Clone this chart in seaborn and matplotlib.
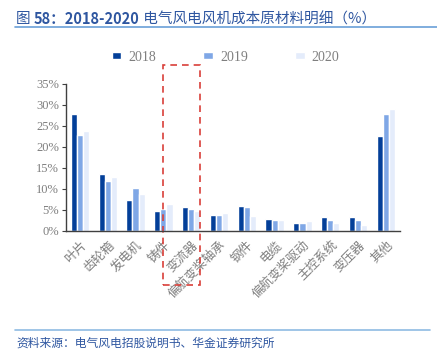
import pandas as pd
import numpy as np
import matplotlib
matplotlib.use('Agg')
import matplotlib.pyplot as plt
import seaborn as sns
from matplotlib.patches import Rectangle
import matplotlib.ticker as mtick

# データ
categories = ['叶片', '齿轮箱', '发电机', '铸件', '变流器', '偏航变桨轴承',
              '钢件', '电缆', '偏航变桨驱动', '主控系统', '变压器', '其他']
years = ['2018', '2019', '2020']
v2018 = [27.8, 13.6, 7.3, 4.7, 5.5, 3.6, 5.9, 2.7, 1.8, 3.2, 3.2, 22.5]
v2019 = [22.8, 11.8, 10.2, 5.2, 5.2, 3.6, 5.5, 2.4, 1.9, 2.6, 2.6, 27.7]
v2020 = [23.7, 12.8, 8.7, 6.3, 4.6, 4.2, 3.4, 2.4, 2.2, 1.9, 1.3, 29.1]
colors = ['#033f99', '#7fa7e6', '#e4ecfb']

df = pd.DataFrame({'category': categories * 3,
                   'year': [y for y in years for _ in categories],
                   'value': v2018 + v2019 + v2020})

sns.set_style('white')
plt.rcParams['font.family'] = ['Liberation Serif', 'Noto Sans CJK SC', 'DejaVu Sans']

fig = plt.figure(figsize=(4.37, 3.52), dpi=100)
ax = fig.add_axes([0.151, 0.345, 0.764, 0.417])

sns.barplot(data=df, x='category', y='value', hue='year', palette=colors,
            width=0.66, saturation=1, ax=ax, legend=True)

ax.set_xlim(-0.5, 11.5)
ax.set_ylim(0, 35)
ax.set_yticks(np.arange(0, 36, 5))
ax.yaxis.set_major_formatter(mtick.PercentFormatter(decimals=0))
ax.set_xlabel('')
ax.set_ylabel('')
for s in ['top', 'right']:
    ax.spines[s].set_visible(False)
for s in ['left', 'bottom']:
    ax.spines[s].set_color('#404040')
    ax.spines[s].set_linewidth(1.0)
ax.tick_params(axis='y', left=True, length=3, color='#404040', labelsize=9,
               labelcolor='#7f7f7f', pad=2)
ax.tick_params(axis='x', bottom=False, labelsize=9, labelcolor='#7f7f7f', pad=2)
plt.setp(ax.get_xticklabels(), rotation=45, ha='right', rotation_mode='anchor',
         family=['Noto Sans CJK SC'])

# 凡例
leg = ax.legend(loc='center', bbox_to_anchor=(0.516, 0.838), bbox_transform=fig.transFigure,
                ncol=3, frameon=False, fontsize=10, handlelength=0.7, handleheight=0.45,
                columnspacing=3.4, handletextpad=0.5)
for t in leg.get_texts():
    t.set_color('#7f7f7f')

# 赤い点線の枠
box = Rectangle((2.97, -13.0), 1.34, 52.5, fill=False, edgecolor='#d9403a',
                linestyle=(0, (4, 3)), linewidth=1.2, clip_on=False)
ax.add_patch(box)

# タイトル（数字部分は太字）
title_parts = [('图 ', 'normal'), ('58：2018-2020', 'bold'),
               (' 电气风电风机成本原材料明细（%）', 'normal')]
renderer = fig.canvas.get_renderer()
x = 0.037
for txt, w in title_parts:
    t = fig.text(x, 0.945, txt, family=['Noto Sans CJK SC'], fontsize=10.5,
                 color='#2e56a0', va='center', weight=w)
    x += t.get_window_extent(renderer).width / fig.bbox.width
fig.add_artist(plt.Line2D([0.035, 1.0], [0.922, 0.922], color='#6a9fd8',
                          linewidth=1.2, transform=fig.transFigure))

# 出典
fig.add_artist(plt.Line2D([0.035, 0.985], [0.063, 0.063], color='#8fbbe3',
                          linewidth=1.2, transform=fig.transFigure))
fig.text(0.037, 0.025, '资料来源：电气风电招股说明书、华金证券研究所',
         family=['Noto Sans CJK SC'], fontsize=8.5, color='#2e56a0', va='center',
         style='italic')

fig.savefig('out.png', dpi=100)
